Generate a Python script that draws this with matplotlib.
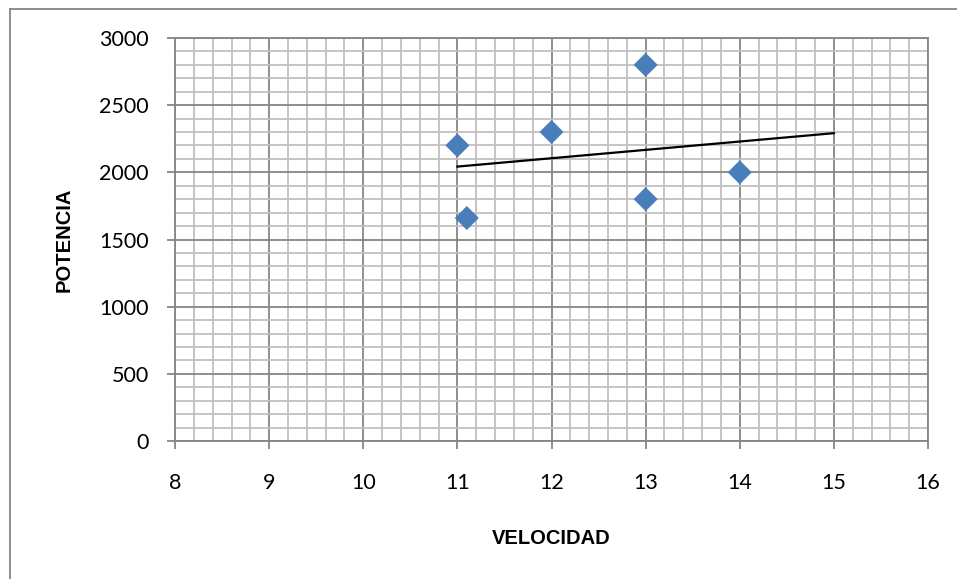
import numpy as np
import matplotlib.pyplot as plt
from matplotlib.ticker import MultipleLocator
from matplotlib.lines import Line2D

# data
velocidad = [11, 11.1, 12, 13, 13, 14]
potencia = [2200, 1660, 2300, 2800, 1800, 2000]

# linear trendline, projected forward to 15
trend_x = [11, 15]

plt.rcParams['font.family'] = ['Lato', 'DejaVu Sans']

fig = plt.figure(figsize=(9.57, 5.79), dpi=100)
ax = fig.add_axes([0.1829, 0.2383, 0.9697 - 0.1829, 0.9344 - 0.2383])

ax.set_xlim(8, 16)
ax.set_ylim(0, 3000)
ax.xaxis.set_major_locator(MultipleLocator(1))
ax.xaxis.set_minor_locator(MultipleLocator(0.2))
ax.yaxis.set_major_locator(MultipleLocator(500))
ax.yaxis.set_minor_locator(MultipleLocator(100))

ax.grid(which='minor', color='#c0c0c0', linewidth=1.3)
ax.grid(which='major', color='#868686', linewidth=1.3)
ax.set_axisbelow(True)

for s in ax.spines.values():
    s.set_color('#868686')
    s.set_linewidth(1.3)

ax.tick_params(which='major', direction='out', length=6, width=1.3,
               color='#868686', labelsize=15.5)
ax.tick_params(which='minor', length=0)
ax.tick_params(axis='x', pad=17)
ax.tick_params(axis='y', pad=13)

ax.scatter(velocidad, potencia, marker='D', s=150, color='#4a7ebb',
           edgecolors='none', zorder=3)

slope, inter = np.polyfit(velocidad, potencia, 1)
ax.plot(trend_x, [slope * x + inter for x in trend_x], color='black',
        linewidth=1.6, zorder=2)

lbl = dict(fontsize=14.5, fontweight='bold', family=['Liberation Sans', 'DejaVu Sans'])
ax.set_xlabel('VELOCIDAD', labelpad=26, **lbl)
ax.set_ylabel('POTENCIA', labelpad=18, **lbl)

# chart area border (top and left visible)
fig.add_artist(Line2D([9.5 / 957, 9.5 / 957], [0, 1 - 8.5 / 579],
                      color='#868686', linewidth=1.3))
fig.add_artist(Line2D([9.5 / 957, 1], [1 - 8.5 / 579, 1 - 8.5 / 579],
                      color='#868686', linewidth=1.3))

fig.savefig('out.png', dpi=100)
